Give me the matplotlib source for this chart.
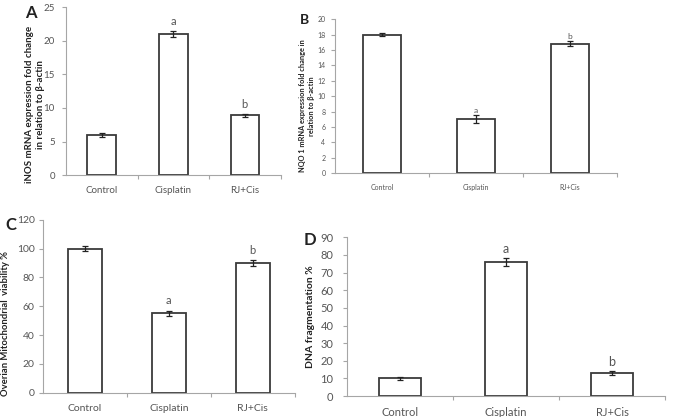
import numpy as np
import matplotlib.pyplot as plt

plt.rcParams['font.family'] = ['Lato', 'DejaVu Sans']

groups = ['Control', 'Cisplatin', 'RJ+Cis']

inos_mean = [6.0, 21.0, 8.9]
inos_err = [0.3, 0.4, 0.2]
inos_sig = ['', 'a', 'b']

nqo1_mean = [18.0, 7.0, 16.8]
nqo1_err = [0.2, 0.5, 0.3]
nqo1_sig = ['', 'a', 'b']

mito_mean = [100, 55, 90]
mito_err = [2, 2, 2]
mito_sig = ['', 'a', 'b']

dna_mean = [10, 76, 13]
dna_err = [1, 2, 1]
dna_sig = ['', 'a', 'b']

AXIS_GRAY = '#a6a6a6'
TEXT_GRAY = '#555555'
BAR_EDGE = '#3a3a3a'


def draw_panel(ax, means, errs, sig, ymax, ystep, ylabel, fs_tick, fs_ylab, fs_sig,
               pad_sig, ypad, label_xy):
    x = np.arange(len(groups))
    ax.bar(x, means, width=0.4, color='white', edgecolor=BAR_EDGE, linewidth=1.3, zorder=2)
    ax.errorbar(x, means, yerr=errs, fmt='none', ecolor='#222222', elinewidth=0.9,
                capsize=2.5, capthick=0.9, zorder=3)
    for xi, m, e, s in zip(x, means, errs, sig):
        if s:
            ax.text(xi, m + e + pad_sig, s, ha='center', va='bottom',
                    fontsize=fs_sig, color=TEXT_GRAY)
    ax.set_xlim(-0.5, 2.5)
    ax.set_ylim(0, ymax)
    ax.set_yticks(np.arange(0, ymax + ystep / 2, ystep))
    ax.set_xticks(x)
    ax.set_xticklabels(groups, fontsize=fs_tick, color=TEXT_GRAY)
    ax.set_xticks([0.5, 1.5, 2.5], minor=True)
    ax.tick_params(axis='x', which='major', length=0, pad=8)
    ax.tick_params(axis='x', which='minor', length=3, color=AXIS_GRAY, width=0.8)
    ax.tick_params(axis='y', length=3, color=AXIS_GRAY, width=0.8,
                   labelsize=fs_tick, labelcolor=TEXT_GRAY, pad=ypad)
    for sp in ['top', 'right']:
        ax.spines[sp].set_visible(False)
    for sp in ['left', 'bottom']:
        ax.spines[sp].set_color(AXIS_GRAY)
        ax.spines[sp].set_linewidth(0.8)
    ax.set_ylabel(ylabel, fontsize=fs_ylab, fontweight='bold', color='#222222',
                  linespacing=1.3)
    # anchor is the right edge of the rotated label
    ax.yaxis.set_label_coords(*label_xy)


fig = plt.figure(figsize=(6.73, 4.17), dpi=100)

axA = fig.add_axes([0.098, 0.580, 0.319, 0.403])
draw_panel(axA, inos_mean, inos_err, inos_sig, 25, 5,
           'iNOS mRNA expression fold change\nin relation to \u03b2-actin', 7, 7, 8, 0.6,
           5, (-0.098, 0.42))

axB = fig.add_axes([0.498, 0.585, 0.419, 0.369])
draw_panel(axB, nqo1_mean, nqo1_err, nqo1_sig, 20, 2,
           'NQO 1 mRNA expression fold change in\nrelation to \u03b2-actin', 5, 5.3, 6, 0.2,
           4, (-0.071, 0.435))

axC = fig.add_axes([0.064, 0.058, 0.374, 0.415])
draw_panel(axC, mito_mean, mito_err, mito_sig, 120, 20,
           'Overian Mitochondrial  viability %', 7.5, 6.8, 8, 3,
           3, (-0.131, 0.40))

axD = fig.add_axes([0.516, 0.050, 0.472, 0.381])
draw_panel(axD, dna_mean, dna_err, dna_sig, 90, 10,
           'DNA fragmentation %', 8, 7.5, 9, 2,
           7, (-0.102, 0.5))

fig.text(0.037, 0.970, 'A', fontsize=12, fontweight='bold', color='#222222', va='center')
fig.text(0.446, 0.952, 'B', fontsize=10, fontweight='bold', color='#222222', va='center')
fig.text(0.008, 0.460, 'C', fontsize=12, fontweight='bold', color='#222222', va='center')
fig.text(0.451, 0.424, 'D', fontsize=12, fontweight='bold', color='#222222', va='center')

fig.savefig('out.png', dpi=100, facecolor='white')
